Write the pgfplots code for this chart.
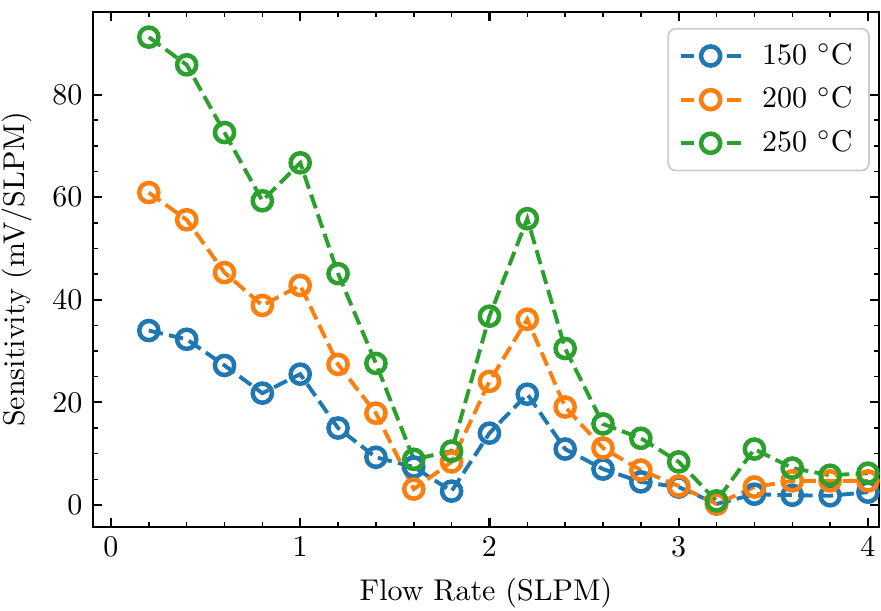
\documentclass[border=0pt]{standalone}
\usepackage{pgfplots}
\pgfplotsset{compat=1.18}
\definecolor{c1}{HTML}{1F77B4}
\definecolor{c2}{HTML}{FF7F0E}
\definecolor{c3}{HTML}{2CA02C}

\begin{document}
\begin{tikzpicture}
\begin{axis}[
  scale only axis, width=262pt, height=171.7pt,
  xmin=-0.095, xmax=4.058, ymin=-4.3, ymax=96.1,
  xtick={0,1,2,3,4}, minor x tick num=4,
  ytick={0,20,40,60,80}, minor y tick num=3,
  tick align=inside, tick pos=both,
  major tick length=3pt, minor tick length=1.7pt,
  every tick/.style={black, line width=0.7pt},
  minor tick style={line width=0.5pt},
  axis line style={line width=0.8pt},
  xlabel={Flow Rate (SLPM)}, ylabel={Sensitivity (mV/SLPM)},
  every axis plot/.append style={line width=1.3pt, dash pattern=on 4.8pt off 2.1pt,
    mark=o, mark size=3.2pt, mark options={solid, line width=1.5pt}},
  legend image code/.code={
    \draw[#1, dash pattern=on 4.5pt off 11pt on 4.5pt off 0pt, mark repeat=2, mark phase=2]
      plot coordinates {(0pt,0pt) (10pt,0pt) (20pt,0pt)};
  },
  legend cell align=left,
  legend style={at={(1,1)}, anchor=north east, xshift=-3pt, yshift=-5.3pt,
    draw=black!20, line width=0.6pt, rounded corners=2.5pt, fill=white,
    row sep=2pt, inner xsep=3.5pt, inner ysep=2.8pt,
    /tikz/every odd column/.append style={column sep=4.5pt}},
]
\coordinate (sw) at (rel axis cs:0,0);
\coordinate (ne) at (rel axis cs:1,1);
\addplot[c1] coordinates {
 (0.2,34.0) (0.4,32.3) (0.6,27.2) (0.8,21.8) (1.0,25.5) (1.2,15.0) (1.4,9.3)
 (1.6,7.4) (1.8,2.7) (2.0,14.0) (2.2,21.6) (2.4,10.9) (2.6,7.0) (2.8,4.5)
 (3.0,3.5) (3.2,0.2) (3.4,2.1) (3.6,1.9) (3.8,1.8) (4.0,2.5)};
\addlegendentry{150 $^\circ$C}
\addplot[c2] coordinates {
 (0.2,60.9) (0.4,55.6) (0.6,45.3) (0.8,38.9) (1.0,42.8) (1.2,27.4) (1.4,17.9)
 (1.6,3.1) (1.8,8.4) (2.0,24.1) (2.2,36.2) (2.4,19.1) (2.6,11.1) (2.8,6.8)
 (3.0,3.7) (3.2,0.2) (3.4,3.5) (3.6,4.7) (3.8,4.7) (4.0,4.7)};
\addlegendentry{200 $^\circ$C}
\addplot[c3] coordinates {
 (0.2,91.2) (0.4,85.8) (0.6,72.6) (0.8,59.3) (1.0,66.7) (1.2,45.1) (1.4,27.6)
 (1.6,8.9) (1.8,10.5) (2.0,36.8) (2.2,55.8) (2.4,30.5) (2.6,15.8) (2.8,13.0)
 (3.0,8.4) (3.2,0.8) (3.4,10.9) (3.6,7.2) (3.8,5.8) (4.0,6.2)};
\addlegendentry{250 $^\circ$C}
\end{axis}
\pgfresetboundingbox
\path ([xshift=-31pt,yshift=-27.7pt]sw) rectangle ([xshift=0.7pt,yshift=4pt]ne);
\end{tikzpicture}
\end{document}
